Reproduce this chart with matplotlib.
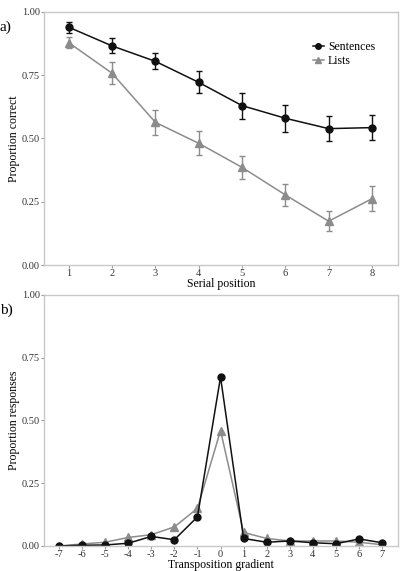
import matplotlib
matplotlib.use("Agg")
from matplotlib import pyplot as plt
from matplotlib.lines import Line2D

# Serial position data (panel a)
positions = [1, 2, 3, 4, 5, 6, 7, 8]
sentences_mean = [0.94, 0.866, 0.805, 0.722, 0.63, 0.58, 0.539, 0.543]
sentences_err = [0.022, 0.03, 0.032, 0.043, 0.051, 0.053, 0.05, 0.049]
lists_mean = [0.879, 0.758, 0.564, 0.481, 0.386, 0.277, 0.173, 0.262]
lists_err = [0.023, 0.043, 0.049, 0.048, 0.045, 0.045, 0.04, 0.05]

# Transposition gradient data (panel b)
gradient = [-7, -6, -5, -4, -3, -2, -1, 0, 1, 2, 3, 4, 5, 6, 7]
sentences_resp = [0.0, 0.003, 0.004, 0.011, 0.038, 0.025, 0.116, 0.673,
                  0.03, 0.015, 0.02, 0.013, 0.009, 0.028, 0.013]
lists_resp = [0.0, 0.008, 0.015, 0.034, 0.045, 0.076, 0.15, 0.46,
              0.054, 0.03, 0.02, 0.02, 0.02, 0.015, 0.005]

plt.rcParams["font.family"] = ["Liberation Serif", "DejaVu Serif"]
plt.rcParams["axes.unicode_minus"] = False

dark = "#111111"
grey = "#8c8c8c"
frame = "#c8c8c8"

fig = plt.figure(figsize=(4.01, 5.71), dpi=100)
axA = fig.add_axes([0.1097, 0.5359, 0.8828, 0.4431])
axB = fig.add_axes([0.1097, 0.0438, 0.8828, 0.4396])


def style_axes(ax):
    for sp in ax.spines.values():
        sp.set_color(frame)
        sp.set_linewidth(1.0)
    ax.tick_params(direction="out", length=2, width=0.8, color="#999999",
                   labelsize=7.5, labelcolor="#333333", pad=1)
    ax.set_ylim(0, 1)
    ax.set_yticks([0, 0.25, 0.5, 0.75, 1.0])
    ax.set_yticklabels(["0.00", "0.25", "0.50", "0.75", "1.00"])


# Panel a
axA.errorbar(positions, sentences_mean, yerr=sentences_err, color=dark,
             marker="o", markersize=5, linewidth=1.1, capsize=2.5,
             elinewidth=1.0, capthick=1.0)
axA.errorbar(positions, lists_mean, yerr=lists_err, color=grey,
             marker="^", markersize=5.5, linewidth=1.1, capsize=2.5,
             elinewidth=1.0, capthick=1.0)
style_axes(axA)
axA.set_xlim(0.43, 8.6)
axA.set_xticks(positions)
axA.set_xlabel("Serial position", fontsize=8.5, labelpad=0)
axA.set_ylabel("Proportion correct", fontsize=8.5, labelpad=1)
handles = [Line2D([], [], color=dark, marker="o", markersize=4, linewidth=1.1),
           Line2D([], [], color=grey, marker="^", markersize=4.5, linewidth=1.1)]
axA.legend(handles, ["Sentences", "Lists"], loc="upper right",
           bbox_to_anchor=(0.935, 0.885), frameon=False, fontsize=8.5,
           handlelength=1.0, handletextpad=0.3, labelspacing=0.15,
           borderpad=0, borderaxespad=0)
fig.text(0.0, 0.952, "a)", fontsize=11, va="center")

# Panel b
axB.plot(gradient, lists_resp, color=grey, marker="^", markersize=5.5,
         linewidth=1.1)
axB.plot(gradient, sentences_resp, color=dark, marker="o", markersize=5,
         linewidth=1.1)
style_axes(axB)
axB.set_xlim(-7.65, 7.69)
axB.set_xticks(gradient)
axB.set_xlabel("Transposition gradient", fontsize=8.5, labelpad=0)
axB.set_ylabel("Proportion responses", fontsize=8.5, labelpad=1)
fig.text(0.0, 0.457, "b)", fontsize=11, va="center")

fig.savefig("out.png", dpi=100)
